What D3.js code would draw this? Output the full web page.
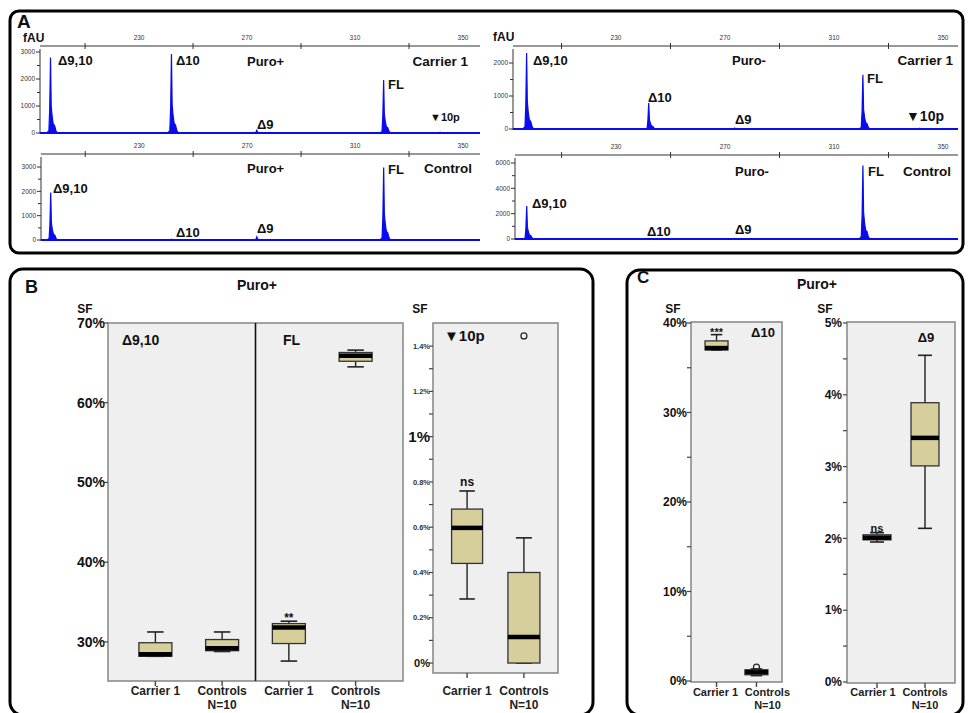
<!DOCTYPE html>
<html><head><meta charset="utf-8">
<script src="https://cdn.jsdelivr.net/npm/d3@7"></script>
<style>
body{margin:0;background:#fff}
svg{display:block;font-family:"Liberation Sans",Arial,Helvetica,sans-serif}
</style>
</head><body>
<svg id="fig" width="970" height="713"></svg>
<script>
// ---------- electropherogram data (fragment size in bp, fluorescence in fAU) ----------
const sizeLabels = [230, 270, 310, 350];
const sizeMinorTicks = [210, 250, 290, 330];
const peakNames = ["Δ9,10", "Δ10", "Δ9", "FL", "▼10p"];
const peakSizes = [197.2, 242.0, 273.6, 320.6, 341.5];
const puroPlusCarrier  = [2800, 2930, 100, 1960, 30];
const puroPlusControl  = [1950, 30, 130, 2980, 0];
const puroMinusCarrier = [2300, 790, 30, 1640, 25];
const puroMinusControl = [2600, 40, 50, 5800, 0];
// peak outline: [bp offset from apex, fraction of apex height]
const peakProfile = [[-1.4,0],[-0.6,0.03],[-0.3,0.32],[0,1],[0.25,0.36],[0.6,0.22],[1.0,0.12],[1.5,0.1],[2.0,0.03],[2.6,0]];

// ---------- splice fraction box plots: [min, q1, median, q3, max] in % ----------
const groups = ["Carrier 1", "Controls"];
const d910Carrier  = [28.2, 28.2, 28.45, 29.9, 31.25];
const d910Controls = [28.8, 28.9, 29.2, 30.3, 31.25];
const flCarrier    = [27.6, 29.8, 31.8, 32.3, 32.6];
const flControls   = [64.5, 65.2, 65.9, 66.3, 66.6];
const p10Carrier   = [0.283, 0.44, 0.597, 0.68, 0.76];
const p10Controls  = [0, 0, 0.115, 0.40, 0.553];
const p10ControlsOutliers = [1.445];
const d10Carrier   = [37.0, 37.0, 37.2, 38.0, 38.7];
const d10Controls  = [0.6, 0.7, 1.0, 1.25, 1.35];
const d10ControlsOutliers = [1.55];
const d9Carrier    = [1.95, 1.98, 2.01, 2.05, 2.08];
const d9Controls   = [2.14, 3.01, 3.40, 3.89, 4.55];

const svg = d3.select("#fig");
const BLUE = "#0a0aee";
const BOX_FILL = "#d6cf9c";
const PLOT_BG = "#efefef";

function txt(x, y, s, o = {}) {
  return svg.append("text").attr("x", x).attr("y", y).text(s)
    .attr("font-size", o.size || 12)
    .attr("font-weight", o.weight || "bold")
    .attr("text-anchor", o.anchor || "start")
    .attr("fill", o.fill || "#111");
}
function frame(x, y, w, h, r) {
  svg.append("rect").attr("x", x).attr("y", y).attr("width", w).attr("height", h)
    .attr("rx", r).attr("fill", "none").attr("stroke", "#000").attr("stroke-width", 3);
}

// ---------- panel frames ----------
frame(10, 11, 953, 242, 9);
frame(10, 269, 583, 446, 13);
frame(627, 270, 336, 445, 13);

// ---------- panel A ----------
txt(17, 28, "A", {size: 19});
txt(23, 42, "fAU", {size: 12});
txt(493, 41, "fAU", {size: 12});

const traces = [
  {vals: puroPlusCarrier, x0: 40, x1: 480, dom: [193.3, 356.3], top: 46, base: 133, ymax: 3000, ymaxPx: 52,
   majors: [0,1000,2000,3000], minors: [500,1500,2500],
   labels: [["Δ9,10",58,65],["Δ10",176,65],["Puro+",247,66],["FL",388,89],["Δ9",257,129]],
   right: ["Carrier 1",468,66], tenP: [430,121,11]},
  {vals: puroPlusControl, x0: 41, x1: 480, dom: [193.6, 356.3], top: 154, base: 240, ymax: 3000, ymaxPx: 167,
   majors: [0,1000,2000,3000], minors: [500,1500,2500,3500],
   labels: [["Δ9,10",53,193],["Δ10",176,237],["Puro+",247,173],["FL",388,174],["Δ9",257,233]],
   right: ["Control",472,173]},
  {vals: puroMinusCarrier, x0: 513, x1: 958, dom: [192.2, 355.5], top: 46, base: 129, ymax: 2000, ymaxPx: 63,
   majors: [0,1000,2000], minors: [500,1500],
   labels: [["Δ9,10",533,65],["Δ10",648,102],["Puro-",732,65],["FL",867,83],["Δ9",735,124]],
   right: ["Carrier 1",953,65], tenP: [906,121,14]},
  {vals: puroMinusControl, x0: 515, x1: 958, dom: [192.9, 355.5], top: 155, base: 239, ymax: 6000, ymaxPx: 163,
   majors: [0,2000,4000,6000], minors: [1000,3000,5000],
   labels: [["Δ9,10",532,208],["Δ10",647,236],["Puro-",735,176],["FL",868,176],["Δ9",735,234]],
   right: ["Control",951,176]}
];

traces.forEach(t => {
  const x = d3.scaleLinear().domain(t.dom).range([t.x0, t.x1]);
  const y = d3.scaleLinear().domain([0, t.ymax]).range([t.base, t.ymaxPx]);
  const g = svg.append("g");
  // top size axis
  g.append("line").attr("x1", t.x0).attr("x2", t.x1).attr("y1", t.top).attr("y2", t.top)
    .attr("stroke", "#333").attr("stroke-width", 1.2);
  sizeMinorTicks.forEach(v => g.append("line").attr("x1", x(v)).attr("x2", x(v))
    .attr("y1", t.top - 3).attr("y2", t.top + 3).attr("stroke", "#333"));
  sizeLabels.forEach(v => g.append("text").attr("x", x(v)).attr("y", t.top - 6).text(v)
    .attr("font-size", 6.5).attr("text-anchor", "middle").attr("fill", "#333"));
  // fluorescence axis
  g.append("line").attr("x1", t.x0).attr("x2", t.x0).attr("y1", t.top + 3).attr("y2", t.base + 1)
    .attr("stroke", "#333");
  t.majors.forEach(v => {
    g.append("line").attr("x1", t.x0 - 4).attr("x2", t.x0).attr("y1", y(v)).attr("y2", y(v)).attr("stroke", "#333");
    g.append("text").attr("x", t.x0 - 5).attr("y", y(v)).attr("dy", "0.35em").text(v)
      .attr("font-size", 6.5).attr("text-anchor", "end").attr("fill", "#333");
  });
  t.minors.forEach(v => {
    if (y(v) > t.top + 2) g.append("line").attr("x1", t.x0 - 3).attr("x2", t.x0)
      .attr("y1", y(v)).attr("y2", y(v)).attr("stroke", "#333");
  });
  // trace
  const pts = [[t.dom[0], 0]];
  peakSizes.forEach((s, i) => {
    if (t.vals[i] > 0) peakProfile.forEach(([dx, f]) => pts.push([s + dx, t.vals[i] * f]));
  });
  pts.push([t.dom[1], 0]);
  g.append("path").datum(pts)
    .attr("d", d3.area().x(d => x(d[0])).y0(y(0)).y1(d => y(d[1])))
    .attr("fill", BLUE);
  g.append("path").datum(pts)
    .attr("d", d3.line().x(d => x(d[0])).y(d => y(d[1])))
    .attr("fill", "none").attr("stroke", BLUE).attr("stroke-width", 1.2);
  g.append("line").attr("x1", t.x0).attr("x2", t.x1).attr("y1", y(0)).attr("y2", y(0))
    .attr("stroke", BLUE).attr("stroke-width", 2);
  // annotations
  t.labels.forEach(([s, lx, ly]) => txt(lx, ly, s, {size: 13}));
  txt(t.right[1], t.right[2], t.right[0], {size: 13.5, anchor: "end"});
  if (t.tenP) txt(t.tenP[0], t.tenP[1], peakNames[4], {size: t.tenP[2]});
});

// ---------- box plot helpers ----------
function drawBox(g, cx, y, s, w, outliers = []) {
  const [mn, q1, md, q3, mx] = s;
  const cap = w * 0.5;
  g.append("line").attr("x1", cx).attr("x2", cx).attr("y1", y(mx)).attr("y2", y(q3)).attr("stroke", "#222").attr("stroke-width", 1.4);
  g.append("line").attr("x1", cx).attr("x2", cx).attr("y1", y(q1)).attr("y2", y(mn)).attr("stroke", "#222").attr("stroke-width", 1.4);
  g.append("line").attr("x1", cx - cap / 2).attr("x2", cx + cap / 2).attr("y1", y(mx)).attr("y2", y(mx)).attr("stroke", "#222").attr("stroke-width", 1.6);
  g.append("line").attr("x1", cx - cap / 2).attr("x2", cx + cap / 2).attr("y1", y(mn)).attr("y2", y(mn)).attr("stroke", "#222").attr("stroke-width", 1.6);
  g.append("rect").attr("x", cx - w / 2).attr("y", y(q3)).attr("width", w)
    .attr("height", Math.max(1, y(q1) - y(q3))).attr("fill", BOX_FILL).attr("stroke", "#333").attr("stroke-width", 1.3);
  g.append("line").attr("x1", cx - w / 2).attr("x2", cx + w / 2).attr("y1", y(md)).attr("y2", y(md))
    .attr("stroke", "#000").attr("stroke-width", 4.5);
  outliers.forEach(o => g.append("circle").attr("cx", cx).attr("cy", y(o)).attr("r", 3)
    .attr("fill", "none").attr("stroke", "#222").attr("stroke-width", 1.2));
}

function plotFrame(x0, x1, y0, y1) {
  svg.append("rect").attr("x", x0).attr("y", y0).attr("width", x1 - x0).attr("height", y1 - y0)
    .attr("fill", PLOT_BG).attr("stroke", "#858585").attr("stroke-width", 1.5);
}

function yAxis(x0, y, ticks, minors, labelEnd) {
  ticks.forEach(([v, label, size, color]) => {
    svg.append("line").attr("x1", x0 - 4).attr("x2", x0).attr("y1", y(v)).attr("y2", y(v)).attr("stroke", "#444").attr("stroke-width", 1.2);
    txt(labelEnd, y(v), label, {size: size, anchor: "end", fill: color || "#111"}).attr("dy", "0.35em");
  });
  minors.forEach(v => svg.append("line").attr("x1", x0 - 4).attr("x2", x0).attr("y1", y(v)).attr("y2", y(v))
    .attr("stroke", "#444").attr("stroke-width", 1.2));
}

function catAxis(xPos, yBottom, labelY, labels, dxs = [], size = 12) {
  xPos.forEach((cx, i) => {
    svg.append("line").attr("x1", cx).attr("x2", cx).attr("y1", yBottom).attr("y2", yBottom + 5)
      .attr("stroke", "#444").attr("stroke-width", 1.4);
    const lx = cx + (dxs[i] || 0);
    txt(lx, labelY, labels[i], {size: size, anchor: "middle", fill: "#222"});
    if (labels[i] === groups[1]) txt(lx, labelY + size + 2, "N=10", {size: size, anchor: "middle", fill: "#222"});
  });
}

// ---------- panel B ----------
txt(25, 293, "B", {size: 18});
txt(257, 290, "Puro+", {size: 14, anchor: "middle"});

// Δ9,10 and FL share one axis
const yB = d3.scaleLinear().domain([25.1, 70]).range([681, 323]);
const keysB = ["d910c", "d910k", "flc", "flk"];
const xB = d3.scalePoint().domain(keysB).range([108, 403]).padding(0.71);
plotFrame(108, 403, 323, 681);
const divX = (xB("d910k") + xB("flc")) / 2;
svg.append("line").attr("x1", divX).attr("x2", divX).attr("y1", 323).attr("y2", 681).attr("stroke", "#111").attr("stroke-width", 1.6);
txt(85, 313, "SF", {size: 12, anchor: "middle"});
yAxis(108, yB, [30, 40, 50, 60, 70].map(v => [v, v + "%", 14]), [], 105);
const gB = svg.append("g");
drawBox(gB, xB("d910c"), yB, d910Carrier, 33);
drawBox(gB, xB("d910k"), yB, d910Controls, 33);
drawBox(gB, xB("flc"), yB, flCarrier, 33);
drawBox(gB, xB("flk"), yB, flControls, 33);
catAxis(keysB.map(k => xB(k)), 681, 695, [groups[0], groups[1], groups[0], groups[1]]);
txt(122, 345, "Δ9,10", {size: 14});
txt(283, 345, "FL", {size: 14});
txt(xB("flc"), 622, "**", {size: 12, anchor: "middle"});

// ▼10p
const yP = d3.scaleLinear().domain([-0.044, 1.502]).range([673, 323]);
const xP = d3.scalePoint().domain(groups).range([433, 558]).padding(0.6);
plotFrame(433, 558, 323, 673);
txt(420, 313, "SF", {size: 12, anchor: "middle"});
yAxis(433, yP, [
  [0, "0%", 11], [0.2, "0.2%", 7.5, "#333"], [0.4, "0.4%", 7.5, "#333"], [0.6, "0.6%", 7.5, "#333"],
  [0.8, "0.8%", 7.5, "#333"], [1.0, "1%", 15], [1.2, "1.2%", 7.5, "#333"], [1.4, "1.4%", 7.5, "#333"]
], [0.1, 0.3, 0.5, 0.7, 0.9, 1.1, 1.3], 430);
const gP = svg.append("g");
drawBox(gP, xP(groups[0]), yP, p10Carrier, 31);
drawBox(gP, xP(groups[1]), yP, p10Controls, 32, p10ControlsOutliers);
catAxis(groups.map(k => xP(k)), 673, 695, groups);
txt(444, 341, peakNames[4], {size: 15});
txt(xP(groups[0]), 486, "ns", {size: 12, anchor: "middle"});

// ---------- panel C ----------
txt(637, 283, "C", {size: 17});
txt(817, 289, "Puro+", {size: 14, anchor: "middle"});

// Δ10
const yC1 = d3.scaleLinear().domain([0, 40]).range([681, 323]);
const xC1 = d3.scalePoint().domain(groups).range([691, 782]).padding(0.64);
plotFrame(691, 782, 322, 682);
txt(673, 313, "SF", {size: 12, anchor: "middle"});
yAxis(691, yC1, [0, 10, 20, 30, 40].map(v => [v, v + "%", 12]), [5, 15, 25, 35], 687);
const gC1 = svg.append("g");
drawBox(gC1, xC1(groups[0]), yC1, d10Carrier, 23);
drawBox(gC1, xC1(groups[1]), yC1, d10Controls, 23, d10ControlsOutliers);
catAxis(groups.map(k => xC1(k)), 682, 696, groups, [-1, 11], 11);
txt(763, 337, "Δ10", {size: 13, anchor: "middle"});
txt(xC1(groups[0]), 336, "***", {size: 11, anchor: "middle"});

// Δ9
const yC2 = d3.scaleLinear().domain([0, 5]).range([682, 323]);
const xC2 = d3.scalePoint().domain(groups).range([847, 955]).padding(0.625);
plotFrame(847, 955, 322, 683);
txt(825, 313, "SF", {size: 12, anchor: "middle"});
yAxis(847, yC2, [0, 1, 2, 3, 4, 5].map(v => [v, v + "%", 12]), [0.5, 1.5, 2.5, 3.5, 4.5], 842);
const gC2 = svg.append("g");
drawBox(gC2, xC2(groups[0]), yC2, d9Carrier, 28);
drawBox(gC2, xC2(groups[1]), yC2, d9Controls, 28);
catAxis(groups.map(k => xC2(k)), 683, 696, groups, [-4, 0], 11);
txt(926, 342, "Δ9", {size: 13, anchor: "middle"});
txt(xC2(groups[0]), 532, "ns", {size: 11, anchor: "middle"});
</script>
</body></html>
